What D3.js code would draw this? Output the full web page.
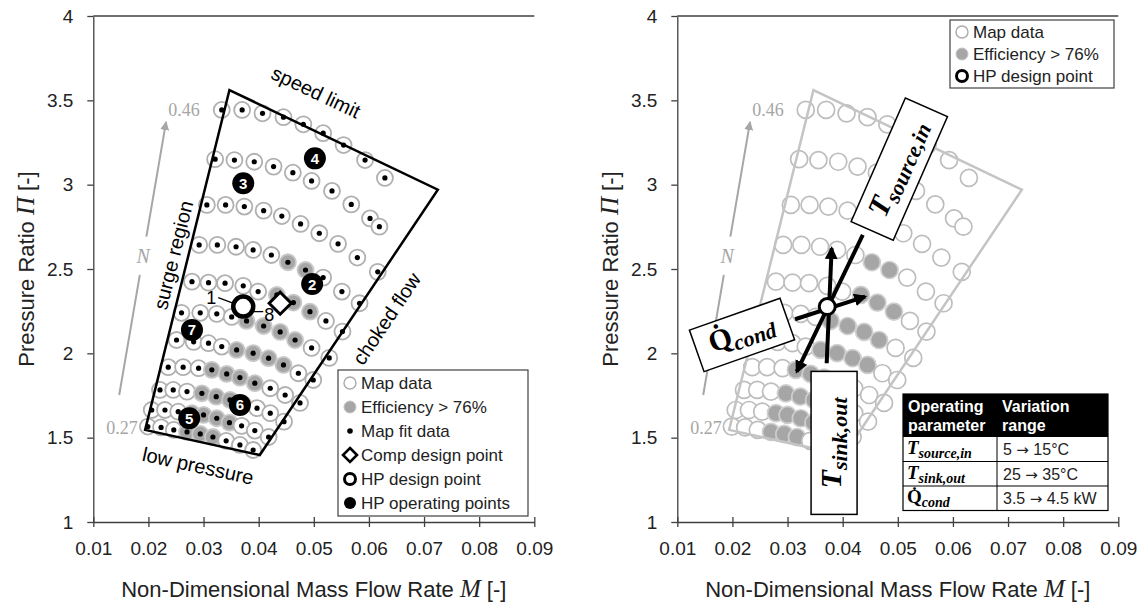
<!DOCTYPE html>
<html lang="en">
<head>
<meta charset="UTF-8">
<title>Compressor map</title>
<style>
  body { margin: 0; background: #fff; }
  svg text { font-family: Arial, "Liberation Sans", sans-serif; }
  .serif { font-family: "Liberation Serif", "DejaVu Serif", serif; }
</style>
</head>
<body>
<svg id="chart" width="1145" height="608"></svg>
<script src="https://d3js.org/d3.v7.min.js"></script>
<script>
// ---- data ----
var xTicks = [0.01, 0.02, 0.03, 0.04, 0.05, 0.06, 0.07, 0.08, 0.09];
var yTicks = [1, 1.5, 2, 2.5, 3, 3.5, 4];

// speed lines, from N = 0.46 (top) down to N = 0.27
var mapM = [
  [0.0333, 0.0370, 0.0407, 0.0445, 0.0481, 0.0517, 0.0554, 0.0593, 0.0629],
  [0.0321, 0.0356, 0.0392, 0.0427, 0.0462, 0.0496, 0.0533, 0.0568, 0.0602, 0.0619],
  [0.0306, 0.0340, 0.0374, 0.0409, 0.0442, 0.0476, 0.0510, 0.0544, 0.0579, 0.0616],
  [0.0292, 0.0325, 0.0359, 0.0390, 0.0423, 0.0453, 0.0485, 0.0517, 0.0551, 0.0583],
  [0.0279, 0.0309, 0.0339, 0.0372, 0.0399, 0.0433, 0.0463, 0.0493, 0.0522, 0.0552],
  [0.0260, 0.0294, 0.0324, 0.0351, 0.0378, 0.0409, 0.0439, 0.0466, 0.0496, 0.0528],
  [0.0251, 0.0282, 0.0309, 0.0333, 0.0360, 0.0390, 0.0418, 0.0445, 0.0472, 0.0499],
  [0.0236, 0.0263, 0.0291, 0.0315, 0.0342, 0.0366, 0.0393, 0.0421, 0.0448, 0.0475],
  [0.0221, 0.0245, 0.0270, 0.0297, 0.0323, 0.0348, 0.0372, 0.0397, 0.0421, 0.0446],
  [0.0206, 0.0230, 0.0254, 0.0279, 0.0300, 0.0324, 0.0347, 0.0369, 0.0393, 0.0418],
  [0.0199, 0.0223, 0.0246, 0.0270, 0.0294, 0.0317, 0.0341, 0.0366, 0.0390]
];
var mapPR = [
  [3.443, 3.443, 3.423, 3.400, 3.358, 3.305, 3.235, 3.146, 3.040],
  [3.151, 3.146, 3.136, 3.107, 3.071, 3.022, 2.963, 2.883, 2.800, 2.751],
  [2.880, 2.880, 2.870, 2.846, 2.814, 2.767, 2.712, 2.649, 2.568, 2.483],
  [2.643, 2.643, 2.632, 2.613, 2.583, 2.540, 2.494, 2.449, 2.366, 2.297],
  [2.425, 2.419, 2.416, 2.400, 2.366, 2.346, 2.301, 2.247, 2.192, 2.129],
  [2.240, 2.240, 2.234, 2.216, 2.192, 2.162, 2.127, 2.079, 2.032, 1.973],
  [2.079, 2.068, 2.060, 2.040, 2.020, 2.001, 1.971, 1.931, 1.882, 1.842],
  [1.918, 1.918, 1.912, 1.902, 1.878, 1.856, 1.823, 1.793, 1.753, 1.706],
  [1.783, 1.783, 1.773, 1.763, 1.743, 1.724, 1.700, 1.675, 1.645, 1.595],
  [1.664, 1.664, 1.654, 1.645, 1.635, 1.615, 1.589, 1.570, 1.542, 1.504],
  [1.566, 1.561, 1.546, 1.534, 1.522, 1.504, 1.481, 1.457, 1.427]
];
// index of points with efficiency > 76% on each speed line
var effIdx = [[], [], [], [5, 6], [5, 6, 7], [4, 5, 6, 7], [4, 5, 6, 7], [3, 4, 5, 6], [3, 4, 5, 6], [3, 4, 5, 6], [3, 4, 5]];

// map limits: speed limit, choked flow, low pressure, surge
var boundM = [0.0347, 0.0725, 0.0402, 0.0194];
var boundPR = [3.561, 2.970, 1.397, 1.546];

var opNum = ["2", "3", "4", "5", "6", "7"];
var opM = [0.0497, 0.0372, 0.0502, 0.0274, 0.0366, 0.0279];
var opPR = [2.411, 3.008, 3.156, 1.615, 1.694, 2.139];

var hpDesign = [0.0372, 2.277];
var compDesign = [0.0439, 2.297];

var nArrowM = [0.0147, 0.0232];
var nArrowPR = [1.753, 3.372];

// sensitivity arrows (right panel): Q_cond, T_source,in, T_sink,out
var arrowFromM = [0.03136, 0.04365, 0.0371];
var arrowFromPR = [2.202, 2.702, 1.941];
var arrowToM = [0.04406, 0.03167, 0.0380];
var arrowToPR = [2.336, 1.891, 2.623];

var tableFrom = ["5", "25", "3.5"];
var tableTo = ["15\u00b0C", "35\u00b0C", "4.5 kW"];

// ---- layout ----
var plotW = 441, plotH = 506, topY = 16;
var panelX = [93.3, 677.3];

var svg = d3.select("#chart");
var x = d3.scaleLinear().domain([0.01, 0.09]).range([0, plotW]);
var y = d3.scaleLinear().domain([1, 4]).range([plotH, 0]);

var points = [];
mapM.forEach(function(row, i) {
  row.forEach(function(m, j) {
    points.push({ m: m, pr: mapPR[i][j], eff: effIdx[i].indexOf(j) >= 0 });
  });
});

var defs = svg.append("defs");
defs.append("marker").attr("id", "headBlack")
  .attr("viewBox", "0 -6 12 12").attr("refX", 10).attr("refY", 0)
  .attr("markerWidth", 13).attr("markerHeight", 13)
  .attr("markerUnits", "userSpaceOnUse").attr("orient", "auto")
  .append("path").attr("d", "M0,-6L12,0L0,6Z").attr("fill", "#000");
defs.append("marker").attr("id", "headGray")
  .attr("viewBox", "0 -5 10 10").attr("refX", 9).attr("refY", 0)
  .attr("markerWidth", 9).attr("markerHeight", 9)
  .attr("markerUnits", "userSpaceOnUse").attr("orient", "auto")
  .append("path").attr("d", "M0,-5L10,0L0,5Z").attr("fill", "#a6a6a6");

function drawAxes(g) {
  var xa = g.append("g").attr("transform", "translate(0," + plotH + ")")
    .call(d3.axisBottom(x).tickValues(xTicks).tickFormat(d3.format(".2f"))
      .tickSize(5).tickSizeOuter(0).tickPadding(15));
  xa.selectAll(".tick line").attr("y1", -5).attr("y2", 5);
  var ya = g.append("g")
    .call(d3.axisLeft(y).tickValues(yTicks).tickFormat(function(d) { return d; })
      .tickSize(6).tickSizeOuter(0).tickPadding(14));
  [xa, ya].forEach(function(a) {
    a.select(".domain").attr("stroke", "#404040").attr("stroke-width", 1.3);
    a.selectAll(".tick line").attr("stroke", "#404040").attr("stroke-width", 1.3);
    a.selectAll(".tick text").attr("font-size", 19).attr("fill", "#222")
      .attr("font-family", "Arial, 'Liberation Sans', sans-serif");
  });
  g.append("line").attr("x1", 0).attr("x2", plotW).attr("y1", 0).attr("y2", 0)
    .attr("stroke", "#404040").attr("stroke-width", 1.3);

  var xt = g.append("text").attr("x", plotW / 2).attr("y", 581)
    .attr("text-anchor", "middle").attr("font-size", 22).attr("fill", "#222");
  xt.append("tspan").text("Non-Dimensional Mass Flow Rate ");
  xt.append("tspan").attr("class", "serif").attr("font-style", "italic").attr("font-size", 25).text("M");
  xt.append("tspan").text(" [-]");

  var yt = g.append("text").attr("transform", "translate(-59," + plotH / 2 + ") rotate(-90)")
    .attr("text-anchor", "middle").attr("font-size", 22).attr("fill", "#222");
  yt.append("tspan").text("Pressure Ratio ");
  yt.append("tspan").attr("class", "serif").attr("font-style", "italic").attr("font-size", 25).text("\u03a0");
  yt.append("tspan").text(" [-]");
}

function drawSpeedArrow(g) {
  var x0 = x(nArrowM[0]), y0 = y(nArrowPR[0]), x1 = x(nArrowM[1]), y1 = y(nArrowPR[1]);
  function at(t) { return [x0 + (x1 - x0) * t, y0 + (y1 - y0) * t]; }
  var a = at(0.44), b = at(0.58), mid = at(0.51);
  g.append("line").attr("x1", x0).attr("y1", y0).attr("x2", a[0]).attr("y2", a[1])
    .attr("stroke", "#a6a6a6").attr("stroke-width", 2);
  g.append("line").attr("x1", b[0]).attr("y1", b[1]).attr("x2", x1).attr("y2", y1)
    .attr("stroke", "#a6a6a6").attr("stroke-width", 2).attr("marker-end", "url(#headGray)");
  g.append("text").attr("class", "serif").attr("x", mid[0]).attr("y", mid[1])
    .attr("text-anchor", "middle").attr("dominant-baseline", "central")
    .attr("font-style", "italic").attr("font-size", 20).attr("fill", "#a6a6a6").text("N");
  g.append("text").attr("class", "serif").attr("x", x(mapM[0][0]) - 22).attr("y", y(mapPR[0][0]))
    .attr("text-anchor", "end").attr("dominant-baseline", "central")
    .attr("font-size", 18).attr("fill", "#a6a6a6").text("0.46");
  var last = mapM.length - 1;
  g.append("text").attr("class", "serif").attr("x", x(mapM[last][0]) - 10).attr("y", y(mapPR[last][0]) + 1)
    .attr("text-anchor", "end").attr("dominant-baseline", "central")
    .attr("font-size", 18).attr("fill", "#a6a6a6").text("0.27");
}

function boundaryPath() {
  return d3.line()(boundM.map(function(m, i) { return [x(m), y(boundPR[i])]; })) + "Z";
}

function diamond(g, cx, cy, r, sw) {
  g.append("path")
    .attr("d", "M" + cx + "," + (cy - r) + "L" + (cx + r) + "," + cy + "L" + cx + "," + (cy + r) + "L" + (cx - r) + "," + cy + "Z")
    .attr("fill", "#fff").attr("stroke", "#000").attr("stroke-width", sw);
}

function legendSymbol(g, type, cx, cy) {
  if (type === "map") g.append("circle").attr("cx", cx).attr("cy", cy).attr("r", 6)
    .attr("fill", "#fff").attr("stroke", "#aaa").attr("stroke-width", 1.4);
  if (type === "eff") g.append("circle").attr("cx", cx).attr("cy", cy).attr("r", 6)
    .attr("fill", "#a6a6a6").attr("stroke", "#c4c4c4").attr("stroke-width", 1);
  if (type === "fit") g.append("circle").attr("cx", cx).attr("cy", cy).attr("r", 2.8).attr("fill", "#000");
  if (type === "comp") diamond(g, cx, cy, 7, 2.6);
  if (type === "hp") g.append("circle").attr("cx", cx).attr("cy", cy).attr("r", 5.5)
    .attr("fill", "#fff").attr("stroke", "#000").attr("stroke-width", 3);
  if (type === "op") g.append("circle").attr("cx", cx).attr("cy", cy).attr("r", 6).attr("fill", "#000");
}

function drawLegend(g, lx, ly, w, step, types, labels) {
  g.append("rect").attr("x", lx).attr("y", ly).attr("width", w).attr("height", types.length * step + 2)
    .attr("fill", "#fff").attr("stroke", "#404040").attr("stroke-width", 1.2);
  types.forEach(function(t, i) {
    var cy = ly + 1 + step / 2 + i * step;
    legendSymbol(g, t, lx + 12, cy);
    g.append("text").attr("x", lx + 23).attr("y", cy).attr("dominant-baseline", "central")
      .attr("font-size", 17).attr("fill", "#222").text(labels[i]);
  });
}

function rotatedLabel(g, m, pr, angle, str) {
  g.append("text").attr("transform", "translate(" + x(m) + "," + y(pr) + ") rotate(" + angle + ")")
    .attr("text-anchor", "middle").attr("dominant-baseline", "central")
    .attr("font-size", 20).attr("fill", "#000").text(str);
}

// ================= left panel =================
var left = svg.append("g").attr("transform", "translate(" + panelX[0] + "," + topY + ")");
drawAxes(left);

left.append("g").selectAll("circle").data(points).join("circle")
  .attr("cx", function(d) { return x(d.m); }).attr("cy", function(d) { return y(d.pr); })
  .attr("r", 8)
  .attr("fill", function(d) { return d.eff ? "#a6a6a6" : "#fff"; })
  .attr("stroke", function(d) { return d.eff ? "#c8c8c8" : "#b0b0b0"; })
  .attr("stroke-width", 1.8);

left.append("path").attr("d", boundaryPath()).attr("fill", "none")
  .attr("stroke", "#000").attr("stroke-width", 2.5).attr("stroke-linejoin", "miter");

left.append("g").selectAll("circle").data(points).join("circle")
  .attr("cx", function(d) { return x(d.m); }).attr("cy", function(d) { return y(d.pr); })
  .attr("r", 2.6).attr("fill", "#000");

drawSpeedArrow(left);

rotatedLabel(left, 0.0504, 3.549, 25.4, "speed limit");
rotatedLabel(left, 0.0245, 2.583, -76.1, "surge region");
rotatedLabel(left, 0.0632, 2.205, -56.1, "choked flow");
rotatedLabel(left, 0.0290, 1.333, 12.3, "low pressure");

diamond(left, x(compDesign[0]), y(compDesign[1]), 11, 3);

var hx = x(hpDesign[0]), hy = y(hpDesign[1]);
left.append("line").attr("x1", hx - 25).attr("y1", hy - 9).attr("x2", hx - 9).attr("y2", hy - 3)
  .attr("stroke", "#000").attr("stroke-width", 1.3);
left.append("text").attr("x", hx - 27).attr("y", hy - 9).attr("text-anchor", "end")
  .attr("dominant-baseline", "central").attr("font-size", 18).text("1");
left.append("line").attr("x1", hx + 9).attr("y1", hy + 5).attr("x2", hx + 20).attr("y2", hy + 5)
  .attr("stroke", "#000").attr("stroke-width", 1.3);
left.append("text").attr("x", hx + 21).attr("y", hy + 8).attr("dominant-baseline", "central")
  .attr("font-size", 18).text("8");
left.append("circle").attr("cx", hx).attr("cy", hy).attr("r", 10)
  .attr("fill", "#fff").attr("stroke", "#000").attr("stroke-width", 4.5);

var ops = left.append("g").selectAll("g").data(opNum).join("g")
  .attr("transform", function(d, i) { return "translate(" + x(opM[i]) + "," + y(opPR[i]) + ")"; });
ops.append("circle").attr("r", 11).attr("fill", "#000");
ops.append("text").attr("text-anchor", "middle").attr("dominant-baseline", "central")
  .attr("font-size", 15).attr("font-weight", "bold").attr("fill", "#fff").text(function(d) { return d; });

drawLegend(left, 338 - panelX[0], 370 - topY, 190, 24,
  ["map", "eff", "fit", "comp", "hp", "op"],
  ["Map data", "Efficiency > 76%", "Map fit data", "Comp design point", "HP design point", "HP operating points"]);

// ================= right panel =================
var right = svg.append("g").attr("transform", "translate(" + panelX[1] + "," + topY + ")");
drawAxes(right);

right.append("g").selectAll("circle").data(points).join("circle")
  .attr("cx", function(d) { return x(d.m); }).attr("cy", function(d) { return y(d.pr); })
  .attr("r", 8.5)
  .attr("fill", function(d) { return d.eff ? "#a6a6a6" : "#fff"; })
  .attr("stroke", function(d) { return d.eff ? "#cfcfcf" : "#bdbdbd"; })
  .attr("stroke-width", 1.7);

right.append("path").attr("d", boundaryPath()).attr("fill", "none")
  .attr("stroke", "#c4c4c4").attr("stroke-width", 2.5);

drawSpeedArrow(right);

arrowFromM.forEach(function(m, i) {
  right.append("line").attr("x1", x(m)).attr("y1", y(arrowFromPR[i]))
    .attr("x2", x(arrowToM[i])).attr("y2", y(arrowToPR[i]))
    .attr("stroke", "#000").attr("stroke-width", 4).attr("marker-end", "url(#headBlack)");
});
right.append("circle").attr("cx", x(hpDesign[0])).attr("cy", y(hpDesign[1])).attr("r", 8)
  .attr("fill", "#fff").attr("stroke", "#000").attr("stroke-width", 3);

function labelBox(g, m, pr, angle, w, h, main, sub, textAngle) {
  var b = g.append("g").attr("transform", "translate(" + x(m) + "," + y(pr) + ") rotate(" + angle + ")");
  b.append("rect").attr("x", -w / 2).attr("y", -h / 2).attr("width", w).attr("height", h)
    .attr("fill", "#fff").attr("stroke", "#000").attr("stroke-width", 1.5);
  var t = b.append("text").attr("class", "serif").attr("text-anchor", "middle")
    .attr("transform", "rotate(" + (textAngle || 0) + ") translate(0,7)")
    .attr("font-weight", "bold").attr("fill", "#000");
  t.append("tspan").attr("font-size", 30).attr("font-style", main === "Q\u0307" ? "normal" : "italic").text(main);
  t.append("tspan").attr("font-size", 22).attr("font-style", "italic").attr("dy", 6).text(sub);
}
labelBox(right, 0.05027, 3.092, -66.3, 135, 46, "T", "source,in");
labelBox(right, 0.02174, 2.109, -19.4, 96, 44, "Q\u0307", "cond");
labelBox(right, 0.03844, 1.469, 0, 46, 143, "T", "sink,out", -90);

drawLegend(right, 950 - panelX[1], 20 - topY, 164, 22,
  ["map", "eff", "hp"], ["Map data", "Efficiency > 76%", "HP design point"]);

// table of operating parameter ranges
var tb = right.append("g").attr("transform", "translate(" + (903 - panelX[1]) + "," + (394 - topY) + ")");
var c1 = 94, c2 = 111, hh = 43, rh = 24.5;
tb.append("rect").attr("width", c1 + c2).attr("height", hh + 3 * rh)
  .attr("fill", "#fff").attr("stroke", "#000").attr("stroke-width", 1.2);
tb.append("rect").attr("width", c1 + c2).attr("height", hh).attr("fill", "#000");
[["Operating", "parameter"], ["Variation", "range"]].forEach(function(lines, c) {
  lines.forEach(function(s, k) {
    tb.append("text").attr("x", c === 0 ? 5 : c1 + 5).attr("y", 18 + k * 19)
      .attr("font-size", 16).attr("font-weight", "bold").attr("fill", "#fff").text(s);
  });
});
var paramMain = ["T", "T", "Q\u0307"];
var paramSub = ["source,in", "sink,out", "cond"];
tableFrom.forEach(function(f, i) {
  var ry = hh + i * rh;
  if (i > 0) tb.append("line").attr("x1", 0).attr("x2", c1 + c2).attr("y1", ry).attr("y2", ry)
    .attr("stroke", "#000").attr("stroke-width", 1);
  var t = tb.append("text").attr("class", "serif").attr("x", 4).attr("y", ry + 17)
    .attr("font-weight", "bold").attr("fill", "#000");
  t.append("tspan").attr("font-size", 19).attr("font-style", i === 2 ? "normal" : "italic").text(paramMain[i]);
  t.append("tspan").attr("font-size", 14).attr("font-style", "italic").attr("dy", 4).text(paramSub[i]);
  var v = tb.append("text").attr("x", c1 + 6).attr("y", ry + 18).attr("font-size", 16).attr("fill", "#222");
  v.append("tspan").text(f + " ");
  v.append("tspan").attr("font-family", "'DejaVu Sans', sans-serif").attr("font-size", 15).text("\u2192");
  v.append("tspan").text(" " + tableTo[i]);
});
tb.append("line").attr("x1", c1).attr("x2", c1).attr("y1", hh).attr("y2", hh + 3 * rh)
  .attr("stroke", "#000").attr("stroke-width", 1);
</script>
</body>
</html>
